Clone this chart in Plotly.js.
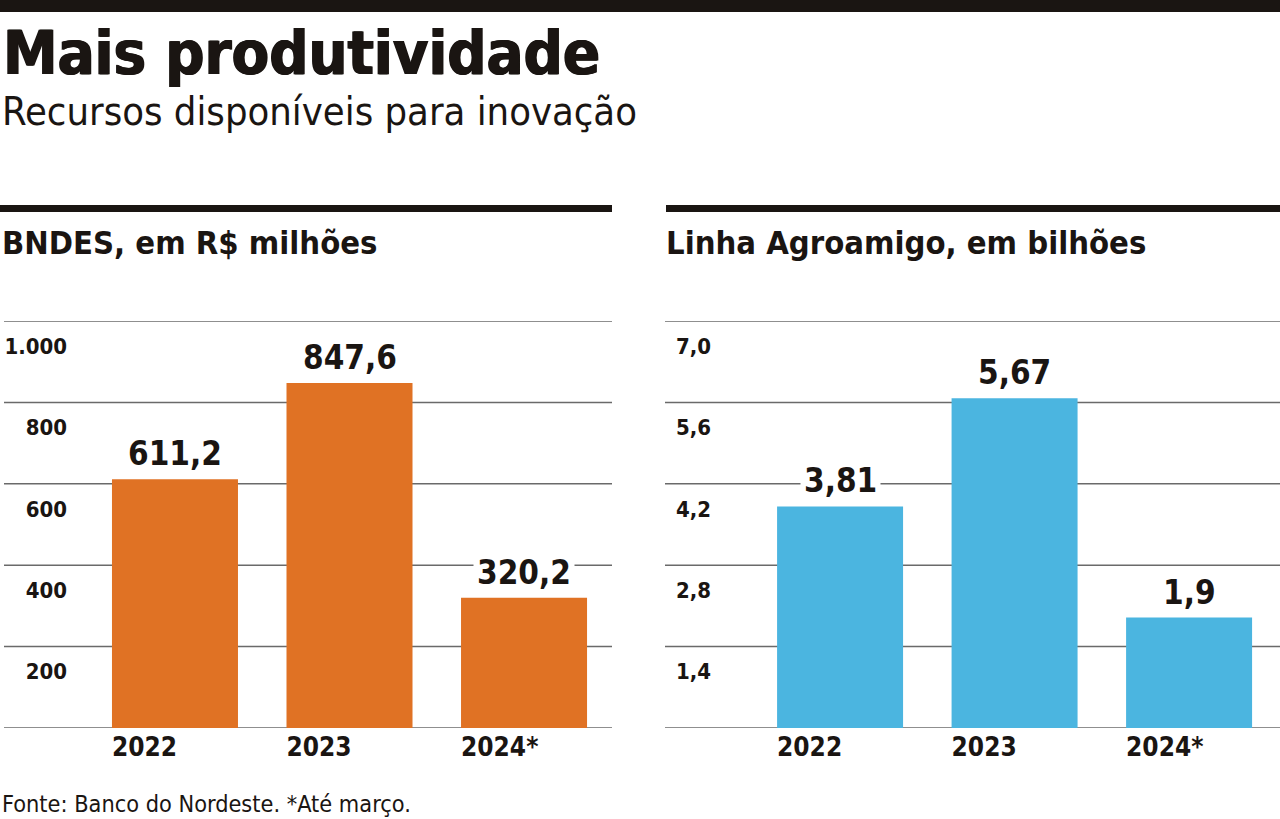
<!DOCTYPE html>
<html>
<head>
<meta charset="utf-8">
<script src="https://cdn.plot.ly/plotly-3.0.1.min.js"></script>
<style>
html,body{margin:0;padding:0;background:#fff;}
#chart{width:1280px;height:819px;}
</style>
</head>
<body>
<div id="chart"></div>
<script>
// ---- data ----
const years = ["2022", "2023", "2024*"];
const bndesValues = [611.2, 847.6, 320.2];
const bndesLabels = ["611,2", "847,6", "320,2"];
const agroValues = [3.81, 5.67, 1.9];
const agroLabels = ["3,81", "5,67", "1,9"];
const bndesGrid = [0, 200, 400, 600, 800, 1000];
const bndesTickVals = [200, 400, 600, 800, 1000];
const bndesTickText = ["200", "400", "600", "800", "1.000"];
const agroGrid = [0, 1.4, 2.8, 4.2, 5.6, 7.0];
const agroTickVals = [1.4, 2.8, 4.2, 5.6, 7.0];
const agroTickText = ["1,4", "2,8", "4,2", "5,6", "7,0"];

const titleText = "Mais produtividade";
const subtitleText = "Recursos disponíveis para inovação";
const leftTitle = "BNDES, em R$ milhões";
const rightTitle = "Linha Agroamigo, em bilhões";
const sourceText = "Fonte: Banco do Nordeste. *Até março.";

// ---- style ----
const W = 1280, H = 819;
const FONT = "'DejaVu Sans Condensed', 'DejaVu Sans', sans-serif";
const INK = "#1a1512";
const ORANGE = "#E07224";
const BLUE = "#4BB5E0";
const GRID = "#6a6a6a";
const px = p => p / W;
const py = p => 1 - p / H;

const yDom = [py(728), py(321)];
const leftDom = [px(72), px(612)];
const rightDom = [px(716), px(1280)];
const BAR_W = 0.722;

const traces = [
  {type: "bar", x: years, y: bndesValues, xaxis: "x", yaxis: "y",
   marker: {color: ORANGE}, width: BAR_W, hoverinfo: "skip"},
  {type: "bar", x: years, y: agroValues, xaxis: "x2", yaxis: "y2",
   marker: {color: BLUE}, width: BAR_W, hoverinfo: "skip"}
];

const shapes = [
  {type: "rect", xref: "paper", yref: "paper", x0: 0, x1: 1, y0: py(12), y1: 1,
   fillcolor: INK, line: {width: 0}},
  {type: "rect", xref: "paper", yref: "paper", x0: 0, x1: px(612), y0: py(212), y1: py(205),
   fillcolor: INK, line: {width: 0}},
  {type: "rect", xref: "paper", yref: "paper", x0: px(666), x1: 1, y0: py(212), y1: py(205),
   fillcolor: INK, line: {width: 0}}
];
const leftGridStart = (4 - 72) / (612 - 72);
const rightGridStart = (665 - 716) / (1280 - 716);
bndesGrid.forEach(v => shapes.push({type: "line", xref: "x domain", yref: "y",
  x0: leftGridStart, x1: 1, y0: v, y1: v, layer: "below", line: {color: GRID, width: 1.5}}));
agroGrid.forEach(v => shapes.push({type: "line", xref: "x2 domain", yref: "y2",
  x0: rightGridStart, x1: 1, y0: v, y1: v, layer: "below", line: {color: GRID, width: 1.5}}));

const heavy = "0.8px 0 0 " + INK + ", -0.8px 0 0 " + INK;
const annotations = [
  {text: titleText, xref: "paper", yref: "paper", x: px(1), y: py(52), xanchor: "left", yanchor: "middle",
   showarrow: false, font: {family: FONT, size: 61, weight: 900, color: INK, shadow: heavy}},
  {text: subtitleText, xref: "paper", yref: "paper", x: px(0), y: py(111), xanchor: "left", yanchor: "middle",
   showarrow: false, font: {family: FONT, size: 39.6, weight: 300, color: INK}},
  {text: leftTitle, xref: "paper", yref: "paper", x: px(0), y: py(243), xanchor: "left", yanchor: "middle",
   showarrow: false, font: {family: FONT, size: 32.5, weight: 700, color: INK}},
  {text: rightTitle, xref: "paper", yref: "paper", x: px(664), y: py(243), xanchor: "left", yanchor: "middle",
   showarrow: false, font: {family: FONT, size: 32.5, weight: 700, color: INK}},
  {text: sourceText, xref: "paper", yref: "paper", x: px(0), y: py(803), xanchor: "left", yanchor: "middle",
   showarrow: false, font: {family: FONT, size: 23.3, weight: 400, color: INK}}
];
years.forEach((yr, i) => {
  annotations.push({text: bndesLabels[i], xref: "x", yref: "y", x: i, y: bndesValues[i],
    xanchor: "center", yanchor: "bottom", yshift: 2, showarrow: false, bgcolor: "#ffffff", borderpad: 3,
    font: {family: FONT, size: 33, weight: 700, color: INK}});
  annotations.push({text: agroLabels[i], xref: "x2", yref: "y2", x: i, y: agroValues[i],
    xanchor: "center", yanchor: "bottom", yshift: 2, showarrow: false, bgcolor: "#ffffff", borderpad: 3,
    font: {family: FONT, size: 33, weight: 700, color: INK}});
});

const xCommon = {type: "category", showgrid: false, zeroline: false, showline: false, ticks: "",
  tickfont: {family: FONT, size: 26, weight: 700, color: INK}, ticklabelstandoff: 1,
  ticklabelposition: "outside right", ticklabelshift: -63, fixedrange: true};
const yCommon = {showgrid: false, zeroline: false, showline: false, ticks: "",
  tickfont: {family: FONT, size: 22, weight: 700, color: INK}, ticklabelshift: 25, ticklabelstandoff: 4,
  fixedrange: true, domain: yDom};

const layout = {
  width: W, height: H, margin: {l: 0, r: 0, t: 0, b: 0}, autosize: false,
  paper_bgcolor: "#ffffff", plot_bgcolor: "rgba(0,0,0,0)", showlegend: false,
  font: {family: FONT, color: INK},
  xaxis: Object.assign({}, xCommon, {domain: leftDom, range: [-0.590, 2.504], anchor: "y"}),
  yaxis: Object.assign({}, yCommon, {range: [0, 1000], tickvals: bndesTickVals, ticktext: bndesTickText, anchor: "x"}),
  xaxis2: Object.assign({}, xCommon, {domain: rightDom, range: [-0.711, 2.521], anchor: "y2"}),
  yaxis2: Object.assign({}, yCommon, {range: [0, 7], tickvals: agroTickVals, ticktext: agroTickText, anchor: "x2"}),
  shapes: shapes,
  annotations: annotations
};

Plotly.newPlot("chart", traces, layout, {displayModeBar: false, staticPlot: true});
</script>
</body>
</html>
